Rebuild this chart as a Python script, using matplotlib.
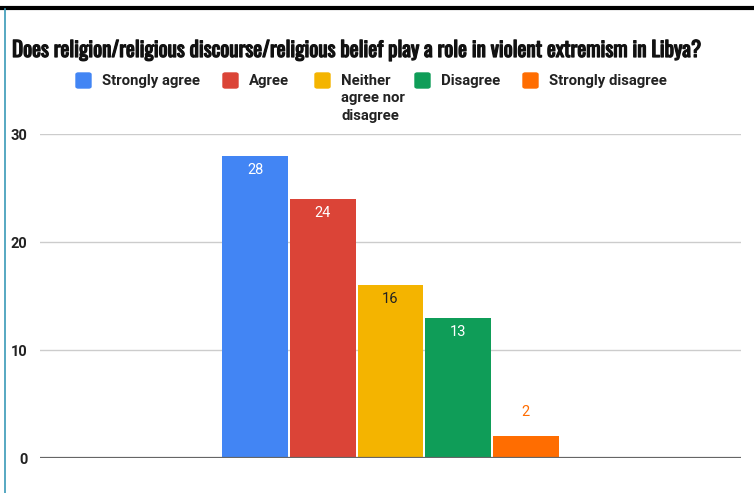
import matplotlib.pyplot as plt
import matplotlib.patheffects as pe
from matplotlib.patches import FancyBboxPatch

categories = ['Strongly agree', 'Agree', 'Neither\nagree nor\ndisagree', 'Disagree', 'Strongly disagree']
values = [28, 24, 16, 13, 2]
colors = ['#4285f4', '#db4437', '#f4b400', '#0f9d58', '#ff6d01']
label_colors = ['white', 'white', '#222222', 'white', '#ff6d01']
yticks = [0, 10, 20, 30]
title = 'Does religion/religious discourse/religious belief play a role in violent extremism in Libya?'

W, H = 754, 493
fig = plt.figure(figsize=(W / 100, H / 100), dpi=100)
ax = fig.add_axes([40 / W, 35 / H, 701 / W, 324 / H])

# one category, five series side by side
bar_w = 0.094
step = 0.0965
for i, (v, c, lc) in enumerate(zip(values, colors, label_colors)):
    x = (i - 2) * step
    ax.bar(x, v, width=bar_w, color=c, zorder=3)
    if v > 5:
        ax.text(x, v - 1.3, str(v), ha='center', va='center', color=lc,
                fontsize=10.5, family='Roboto', zorder=4)
    else:
        ax.text(x, v + 2.3, str(v), ha='center', va='center', color=lc,
                fontsize=10.5, family='Roboto', zorder=4)

ax.set_xlim(-0.5, 0.5)
ax.set_ylim(0, 30)
ax.set_yticks(yticks)
ax.set_yticklabels([str(t) for t in yticks], fontsize=10.5, fontweight='bold',
                   family='Roboto', color='#222222')
ax.tick_params(axis='y', length=0, pad=9)
ax.set_xticks([])
ax.grid(axis='y', color='#cccccc', linewidth=1, zorder=0)
for s in ax.spines.values():
    s.set_visible(False)
ax.axhline(0, color='#666666', linewidth=1.6, zorder=5)

# title, sized to span the top of the chart
t = fig.text(12 / W, 1 - 50 / H, title, fontsize=16, family='Oswald',
             fontweight='bold', va='center', ha='left', color='#111111',
             path_effects=[pe.withStroke(linewidth=0.9, foreground='#111111')])
fig.canvas.draw()
tw = t.get_window_extent().width
t.set_fontsize(16 * 693 / tw)

# legend drawn by hand so the wrapped label hangs from its marker
mark_x = [76, 223, 315, 415, 523]
for x, c, lab in zip(mark_x, colors, categories):
    fig.patches.append(FancyBboxPatch((x / W, 1 - 88 / H), 15 / W, 15 / H,
                                      boxstyle='round,pad=0,rounding_size=0.003',
                                      transform=fig.transFigure, color=c))
    fig.text((x + 26) / W, 1 - 74 / H, lab, fontsize=10.7, fontweight='bold',
             family='Roboto', va='top', ha='left', color='#222222',
             linespacing=1.3)

# frame edges
fig.add_artist(plt.Line2D([0, 1], [1 - 8 / H, 1 - 8 / H], transform=fig.transFigure,
                          color='black', linewidth=3))
fig.add_artist(plt.Line2D([5 / W, 5 / W], [0, 1 - 9 / H], transform=fig.transFigure,
                          color='#3a9ab8', linewidth=1.2))

fig.savefig('out.png', dpi=100)
